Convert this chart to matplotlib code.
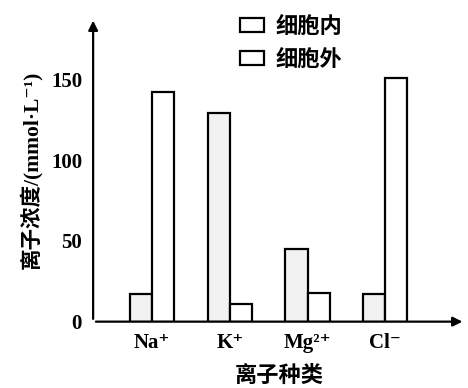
import numpy as np
import matplotlib
matplotlib.use('Agg')
import matplotlib.pyplot as plt

plt.rcParams['font.family'] = ['Liberation Serif', 'Noto Sans CJK SC', 'DejaVu Serif']

ions = ['Na⁺', 'K⁺', 'Mg²⁺', 'Cl⁻']
inside = [17, 129, 45, 17]
outside = [142, 11, 18, 151]
yticks = [0, 50, 100, 150]

fig = plt.figure(figsize=(4.68, 3.88), dpi=100)
ax = fig.add_axes([0.199, 0.171, 0.795, 0.783])

x = np.arange(len(ions))
w = 0.285
ax.bar(x - w / 2, inside, w, color='#f2f2f2', edgecolor='black', linewidth=1.6, label='细胞内')
ax.bar(x + w / 2, outside, w, color='white', edgecolor='black', linewidth=1.6, label='细胞外')

ax.set_xlim(-0.76, 4.03)
ax.set_ylim(0, 188)
for s in ax.spines.values():
    s.set_visible(False)
# 坐标轴箭头
ax.annotate('', xy=(1, 0), xytext=(0, 0), xycoords='axes fraction',
            arrowprops=dict(arrowstyle='-|>', color='black', lw=1.6, mutation_scale=14))
ax.annotate('', xy=(0, 1), xytext=(0, 0), xycoords='axes fraction',
            arrowprops=dict(arrowstyle='-|>', color='black', lw=1.6, mutation_scale=14))

ax.set_yticks(yticks)
ax.set_yticklabels([str(v) for v in yticks], fontsize=15, fontweight='bold')
ax.set_xticks(x)
ax.set_xticklabels(ions, fontsize=15, fontweight='bold')
ax.tick_params(length=0, pad=8)
ax.set_xlabel('离子种类', fontsize=16, fontweight='bold', labelpad=8,
              family=['Noto Sans CJK SC'])
ax.set_ylabel('离子浓度/(mmol·L⁻¹)', fontsize=15.5, fontweight='bold', labelpad=6,
              family=['Liberation Serif', 'Noto Sans CJK SC', 'DejaVu Serif'])

leg = ax.legend(loc='upper left', bbox_to_anchor=(0.34, 1.075), frameon=False,
                prop={'family': 'Noto Sans CJK SC', 'size': 16, 'weight': 'bold'},
                handlelength=1.1, handleheight=0.6, handletextpad=0.5, labelspacing=0.45)
leg.legend_handles[0].set_facecolor('white')

fig.savefig('out.png', dpi=100)
